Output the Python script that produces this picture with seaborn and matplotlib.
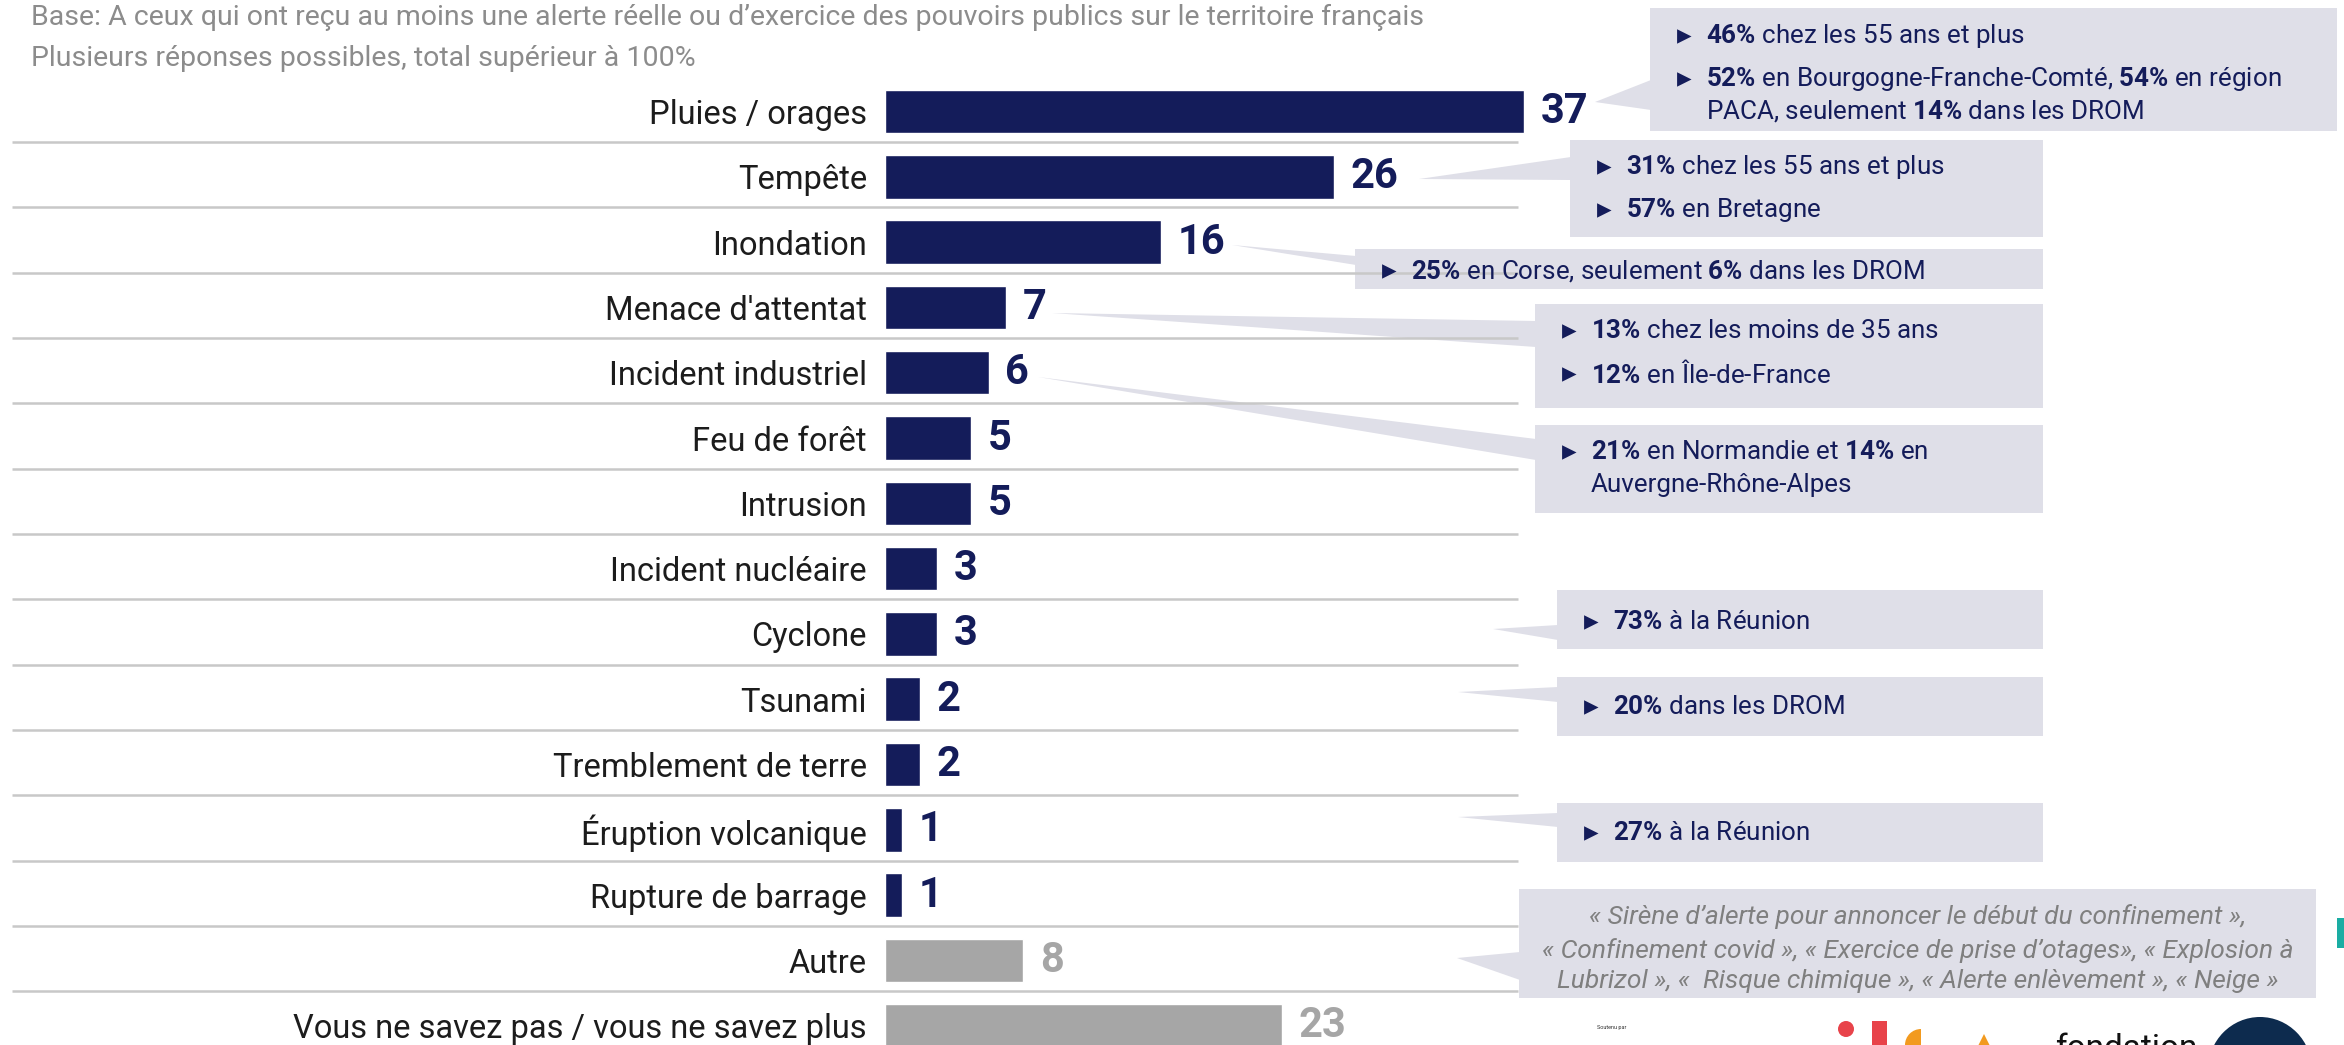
import numpy as np
import pandas as pd
import matplotlib
matplotlib.use('Agg')
import matplotlib.pyplot as plt
import seaborn as sns
from matplotlib import transforms
from matplotlib.patches import Polygon, Rectangle, Circle, Ellipse, Wedge

# --- données ---
categories = ['Pluies / orages', 'Tempête', 'Inondation', "Menace d'attentat",
              'Incident industriel', 'Feu de forêt', 'Intrusion', 'Incident nucléaire',
              'Cyclone', 'Tsunami', 'Tremblement de terre', 'Éruption volcanique',
              'Rupture de barrage', 'Autre', 'Vous ne savez pas / vous ne savez plus']
values = [37, 26, 16, 7, 6, 5, 5, 3, 3, 2, 2, 1, 1, 8, 23]
groups = ['alerte'] * 13 + ['autre'] * 2

header = ["Base: A ceux qui ont reçu au moins une alerte réelle ou d’exercice des pouvoirs publics sur le territoire français",
          "Plusieurs réponses possibles, total supérieur à 100%"]

# callouts : (boite, pointe, lignes (texte, puce))
callouts = [
    ((1650, 8, 2337, 131), ((1595, 102), 80, 110),
     [(r"$\mathbf{46\%}$ chez les 55 ans et plus", True),
      (r"$\mathbf{52\%}$ en Bourgogne-Franche-Comté, $\mathbf{54\%}$ en région", True),
      (r"PACA, seulement $\mathbf{14\%}$ dans les DROM", False)]),
    ((1570, 140, 2043, 237), ((1419, 179), 157, 180),
     [(r"$\mathbf{31\%}$ chez les 55 ans et plus", True),
      (r"$\mathbf{57\%}$ en Bretagne", True)]),
    ((1355, 249, 2043, 289), ((1232, 245), 256, 265),
     [(r"$\mathbf{25\%}$ en Corse, seulement $\mathbf{6\%}$ dans les DROM", True)]),
    ((1535, 304, 2043, 408), ((1052, 313), 321, 347),
     [(r"$\mathbf{13\%}$ chez les moins de 35 ans", True),
      (r"$\mathbf{12\%}$ en Île-de-France", True)]),
    ((1535, 425, 2043, 513), ((1038, 377), 439, 460),
     [(r"$\mathbf{21\%}$ en Normandie et $\mathbf{14\%}$ en", True),
      (r"Auvergne-Rhône-Alpes", False)]),
    ((1557, 590, 2043, 649), ((1493, 629), 625, 640),
     [(r"$\mathbf{73\%}$ à la Réunion", True)]),
    ((1557, 677, 2043, 736), ((1458, 692), 687, 702),
     [(r"$\mathbf{20\%}$ dans les DROM", True)]),
    ((1557, 803, 2043, 862), ((1458, 817), 813, 827),
     [(r"$\mathbf{27\%}$ à la Réunion", True)]),
]
callout_lines_y = [[36, 79, 111], [167, 210], [271], [331, 374], [452, 485], [622], [707], [833]]

autre_box = (1519, 889, 2316, 998)
autre_tip = ((1457, 958), 952, 980)
autre_lines = ["« Sirène d’alerte pour annoncer le début du confinement »,",
               "« Confinement covid », « Exercice de prise d’otages», « Explosion à",
               "Lubrizol », «  Risque chimique », « Alerte enlèvement », « Neige »"]
autre_lines_y = [917, 951, 981]

NAVY = '#141c5a'
GREY = '#a6a6a6'
BOX = '#dfdfe8'
LINE = '#c8c8c8'

W, H = 2344, 1045

sns.set_theme(style='white')
plt.rcParams['font.family'] = ['Roboto', 'DejaVu Sans']
plt.rcParams['mathtext.fontset'] = 'custom'
plt.rcParams['mathtext.rm'] = 'Roboto'
plt.rcParams['mathtext.bf'] = 'Roboto:bold'
plt.rcParams['mathtext.it'] = 'Roboto:italic'

fig = plt.figure(figsize=(W / 100, H / 100), dpi=100)
fig.patch.set_facecolor('white')

# axes principal : 17.26 px par point, barre 0 à x=885
ax = fig.add_axes([885 / W, 0, 1381 / W, 1])
df = pd.DataFrame({'cat': categories, 'val': values, 'grp': groups})
palette = {c: (NAVY if g == 'alerte' else GREY) for c, g in zip(categories, groups)}
sns.barplot(data=df, x='val', y='cat', hue='cat', palette=palette, width=0.667,
            saturation=1, legend=False, ax=ax)
ax.set_xlim(0, 80)
ax.set_ylim(14.295, -1.7075)
ax.set_xlabel('')
ax.set_ylabel('')
ax.set_xticks([])
sns.despine(ax=ax, left=True, bottom=True)
ax.tick_params(axis='y', length=0, pad=13, labelsize=23.5, labelcolor='#1c1c1c')

for cont, g in zip(ax.containers, groups):
    ax.bar_label(cont, padding=12, fontsize=30, fontweight='bold',
                 color=NAVY if g == 'alerte' else GREY)

# overlay en pixels pour les encadrés
ov = fig.add_axes([0, 0, 1, 1])
ov.set_xlim(0, W)
ov.set_ylim(H, 0)
ov.axis('off')

# lignes de séparation (x en pixels, y en données)
blend = transforms.blended_transform_factory(ov.transData, ax.transData)
for k in range(len(categories) - 1):
    ov.plot([12, 1518], [k + 0.47, k + 0.47], transform=blend, color=LINE,
            lw=1.8, solid_capstyle='butt', zorder=2, clip_on=False)

# en-tête
for txt, yy in zip(header, [17, 58]):
    ov.text(31, yy, txt, fontsize=20.5, color='#8c8c8c', va='center', ha='left')


def draw_box(box, tip):
    x0, y0, x1, y1 = box
    ov.add_patch(Rectangle((x0, y0), x1 - x0, y1 - y0, facecolor=BOX, edgecolor='none', zorder=1))
    (tx, ty), e0, e1 = tip
    ov.add_patch(Polygon([(tx, ty), (x0 + 1, e0), (x0 + 1, e1)], closed=True,
                         facecolor=BOX, edgecolor='none', zorder=1))


for (box, tip, lines), ys in zip(callouts, callout_lines_y):
    draw_box(box, tip)
    for (txt, bullet), yy in zip(lines, ys):
        if bullet:
            ov.text(box[0] + 27, yy, '▸', fontsize=21, color=NAVY, va='center', ha='left',
                    family=['DejaVu Sans'], zorder=3)
        ov.text(box[0] + 56, yy, txt, fontsize=18.7, color=NAVY, va='center', ha='left', zorder=3)

draw_box(autre_box, autre_tip)
for txt, yy in zip(autre_lines, autre_lines_y):
    ov.text((autre_box[0] + autre_box[2]) / 2, yy, txt, fontsize=19, style='italic',
            color='#7f7f7f', va='center', ha='center', zorder=3)

# logos (approximatifs)
ov.text(1597, 1027, 'Soutenu par', fontsize=4, color='#333333', va='center')
ov.add_patch(Circle((1846, 1029), 8, facecolor='#e8434a', edgecolor='none'))
ov.add_patch(Rectangle((1872, 1021), 15, 30, facecolor='#e8434a', edgecolor='none'))
ov.add_patch(Wedge((1921, 1045), 16, 180, 270, facecolor='#f29a1f', edgecolor='none'))
ov.add_patch(Polygon([(1977, 1048), (1984, 1034), (1991, 1048)], facecolor='#f29a1f', edgecolor='none'))
ov.text(2055, 1058, 'fondation', fontsize=24, color='#111111', va='baseline')
ov.add_patch(Ellipse((2260, 1070), 104, 106, facecolor='#0d2b4e', edgecolor='none'))
ov.add_patch(Rectangle((2337, 918), 10, 30, facecolor='#1aada3', edgecolor='none'))

fig.savefig('out.png', dpi=100, facecolor='white')
